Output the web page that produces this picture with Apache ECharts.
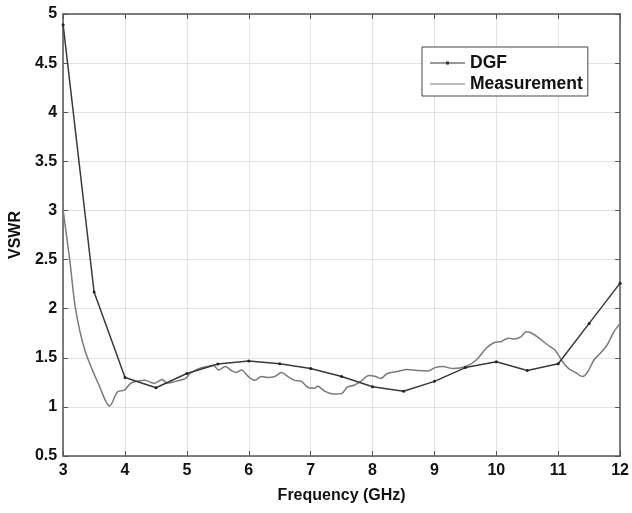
<!DOCTYPE html>
<html>
<head>
<meta charset="utf-8">
<script src="https://cdn.jsdelivr.net/npm/echarts@6/dist/echarts.min.js"></script>
<style>html,body{margin:0;padding:0;background:#fff}#c{width:632px;height:513px}</style>
</head>
<body>
<div id="c"></div>
<script>
const xTicks = [3, 4, 5, 6, 7, 8, 9, 10, 11, 12];
const yTicks = [0.5, 1, 1.5, 2, 2.5, 3, 3.5, 4, 4.5, 5];

const dgfFreq = [3, 3.5, 4, 4.5, 5, 5.5, 6, 6.5, 7, 7.5, 8, 8.5, 9, 9.5, 10, 10.5, 11, 11.5, 12];
const dgfVswr = [4.89, 2.17, 1.30, 1.195, 1.34, 1.436, 1.466, 1.44, 1.39, 1.31, 1.205, 1.16, 1.26, 1.40, 1.46, 1.37, 1.44, 1.85, 2.26];

const measFreq = [3.0, 3.107, 3.2, 3.35, 3.59, 3.75, 3.88, 3.99, 4.09, 4.2, 4.32, 4.47, 4.6, 4.68, 4.82, 4.98, 5.05, 5.19, 5.35, 5.43, 5.51, 5.62, 5.72, 5.8, 5.88, 5.99, 6.1, 6.2, 6.31, 6.42, 6.53, 6.63, 6.74, 6.85, 6.95, 7.06, 7.11, 7.24, 7.38, 7.51, 7.59, 7.7, 7.81, 7.94, 8.05, 8.13, 8.24, 8.4, 8.56, 8.72, 8.9, 9.01, 9.14, 9.3, 9.52, 9.68, 9.84, 9.97, 10.08, 10.19, 10.29, 10.4, 10.48, 10.56, 10.69, 10.83, 10.96, 11.07, 11.17, 11.28, 11.39, 11.47, 11.58, 11.68, 11.79, 11.9, 12.0];
const measVswr = [3.0, 2.495, 2.0, 1.58, 1.205, 1.008, 1.154, 1.17, 1.24, 1.26, 1.27, 1.24, 1.28, 1.24, 1.26, 1.29, 1.34, 1.39, 1.415, 1.425, 1.375, 1.41, 1.37, 1.35, 1.375, 1.31, 1.27, 1.31, 1.30, 1.31, 1.35, 1.31, 1.27, 1.26, 1.20, 1.19, 1.21, 1.155, 1.13, 1.14, 1.20, 1.22, 1.26, 1.32, 1.31, 1.29, 1.34, 1.36, 1.38, 1.37, 1.365, 1.40, 1.41, 1.39, 1.415, 1.48, 1.60, 1.655, 1.665, 1.70, 1.69, 1.715, 1.765, 1.755, 1.70, 1.63, 1.57, 1.46, 1.39, 1.35, 1.31, 1.35, 1.48, 1.545, 1.63, 1.765, 1.85];

const zip = (a, b) => a.map((v, i) => [v, b[i]]);
const font = '"Liberation Sans", Arial, sans-serif';
const axisCol = '#555';

const chart = echarts.init(document.getElementById('c'), null, {renderer: 'canvas'});
const baseX = {
  type: 'value', min: xTicks[0], max: xTicks[xTicks.length - 1], interval: 1,
  axisLine: {show: true, lineStyle: {color: axisCol, width: 1.5}},
  axisTick: {show: true, inside: true, length: 5, lineStyle: {color: axisCol}},
  splitLine: {show: false}
};
const baseY = {
  type: 'value', min: yTicks[0], max: yTicks[yTicks.length - 1], interval: 0.5,
  axisLine: {show: true, lineStyle: {color: axisCol, width: 1.5}},
  axisTick: {show: true, inside: true, length: 5, lineStyle: {color: axisCol}},
  splitLine: {show: false}
};
const dgfIcon = 'path://M0,1.5 L35,1.5 L35,2.5 L0,2.5 Z M16,0.5 L19,0.5 L19,3.5 L16,3.5 Z M0,0 L0.01,0 L0.01,0.01 Z M0,4 L0.01,4 L0.01,3.99 Z';
const measIcon = 'path://M0,1.5 L35,1.5 L35,2.5 L0,2.5 Z M0,0 L0.01,0 L0.01,0.01 Z M0,4 L0.01,4 L0.01,3.99 Z';
chart.setOption({
  backgroundColor: '#fff',
  animation: false,
  grid: {left: 60, top: 14, right: 10, bottom: 57},
  legend: {
    orient: 'vertical', left: 422, top: 47,
    backgroundColor: '#fff', borderColor: '#444', borderWidth: 1,
    padding: [7, 5, 3, 8], itemGap: 3, itemWidth: 35, itemHeight: 4,
    itemStyle: {borderWidth: 0},
    textStyle: {fontFamily: font, fontWeight: 'bold', fontSize: 17.5, color: '#111'},
    data: [
      {name: 'DGF', icon: dgfIcon, itemStyle: {color: '#333'}},
      {name: 'Measurement', icon: measIcon, itemStyle: {color: '#7a7a7a'}}
    ]
  },
  xAxis: [
    Object.assign({}, baseX, {
      position: 'bottom',
      name: 'Frequency (GHz)', nameLocation: 'middle', nameGap: 32,
      nameTextStyle: {fontFamily: font, fontWeight: 'bold', fontSize: 16, color: '#111'},
      axisLabel: {fontFamily: font, fontWeight: 'bold', fontSize: 16, color: '#111', margin: 7,
        formatter: v => String(v)},
      splitLine: {show: true, lineStyle: {color: '#e2e2e2', width: 1}}
    }),
    Object.assign({}, baseX, {position: 'top', axisLabel: {show: false}})
  ],
  yAxis: [
    Object.assign({}, baseY, {
      position: 'left',
      name: 'VSWR', nameLocation: 'middle', nameGap: 36,
      nameTextStyle: {fontFamily: font, fontWeight: 'bold', fontSize: 16, color: '#111'},
      axisLabel: {fontFamily: font, fontWeight: 'bold', fontSize: 16, color: '#111', margin: 6,
        formatter: v => String(v)},
      splitLine: {show: true, lineStyle: {color: '#e2e2e2', width: 1}}
    }),
    Object.assign({}, baseY, {position: 'right', axisLabel: {show: false}})
  ],
  series: [
    {
      name: 'DGF', type: 'line', data: zip(dgfFreq, dgfVswr),
      symbol: 'circle', symbolSize: 3, showSymbol: true,
      lineStyle: {color: '#3a3a3a', width: 1.5},
      itemStyle: {color: '#222'}, z: 3
    },
    {
      name: 'Measurement', type: 'line', data: zip(measFreq, measVswr),
      symbol: 'none', smooth: 0.3,
      lineStyle: {color: '#7a7a7a', width: 1.5},
      itemStyle: {color: '#7a7a7a'}, z: 2
    }
  ]
});
</script>
</body>
</html>
